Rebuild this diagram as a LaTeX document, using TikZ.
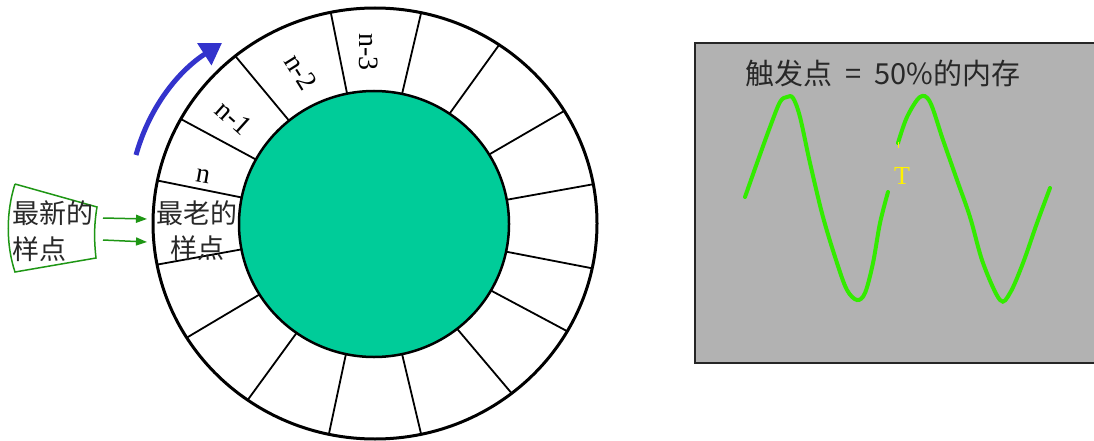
\documentclass[tikz,border=0pt]{standalone}
\usepackage{fontspec}
\newfontfamily\cjk{Noto Sans CJK SC}
\newfontfamily\tms{Liberation Serif}
\usetikzlibrary{arrows.meta}
\definecolor{ringgreen}{RGB}{0,204,153}
\definecolor{wavegreen}{RGB}{51,235,0}
\definecolor{arrgreen}{RGB}{30,150,20}
\definecolor{arrblue}{RGB}{51,51,204}
\definecolor{panelgray}{RGB}{178,178,178}
\definecolor{txtgray}{RGB}{40,40,40}
\begin{document}
\begin{tikzpicture}[x=1pt,y=-1pt,
  lbl/.style={inner sep=0pt, font=\tms\fontsize{28}{28}\selectfont},
  cjklbl/.style={inner sep=0pt, text=txtgray, font=\cjk\fontsize{27}{27}\selectfont},
  divider/.style={line width=1.8pt},
  greenarrow/.style={arrgreen, line width=1.5pt, -{Triangle[length=11pt,width=8pt]}}]
\useasboundingbox (0,0) rectangle (1094,441);
\fill[white] (0,0) rectangle (1094,441);

% ring
\draw[line width=3pt] (375,223.5) ellipse [x radius=222pt, y radius=215.5pt];
\foreach \a in {10.5,31.5,56,78,101.5,129,151,168.5,191,212,235,258,282,308,330,348}
  \draw[divider] ({374+135*cos(\a)},{224-133*sin(\a)}) -- ({375+222*cos(\a)},{223.5-215.5*sin(\a)});
\draw[fill=ringgreen, line width=2.5pt] (374,224) ellipse [x radius=135pt, y radius=133pt];

% cell labels
\node[lbl, rotate=-90] (n3) at (369,52) {n-3};
\node[lbl, rotate=-58] (n2) at (301,72) {n-2};
\node[lbl, rotate=-42] (n1) at (234,118) {n-1};
\node[lbl, rotate=-10] (n0) at (203,176) {n};
\node[cjklbl] (old1) at (197,213) {最老的};
\node[cjklbl] (old2) at (197,248) {样点};

% blue arrow
\coordinate (bs) at (136,155);
\coordinate (be) at (222,43);
\draw[arrblue, line width=5pt, -{Triangle[length=21pt,width=25pt]}]
  (bs) .. controls (150,105) and (180,70) .. (be);

% newest sample box
\draw[arrgreen, line width=1.5pt] (15,184) -- (97,207)
  .. controls (94,225) and (94,240) .. (96,258) -- (15,272)
  .. controls (6,245) and (6,212) .. (15,184);
\node[cjklbl, anchor=west] (new1) at (12,213) {最新的};
\node[cjklbl, anchor=west] (new2) at (12,249) {样点};
\coordinate (a1s) at (103,218);
\coordinate (a1e) at (147,219);
\coordinate (a2s) at (103,240);
\coordinate (a2e) at (147,242);
\draw[greenarrow] (a1s) -- (a1e);
\draw[greenarrow] (a2s) -- (a2e);

% right panel
\draw[fill=panelgray, draw=black!85, line width=2pt] (695,43) rectangle (1100,363);
\node[inner sep=0pt, anchor=west, text=txtgray, font=\cjk\fontsize{29}{29}\selectfont] (title) at (745,73)
  {触发点\hspace{0.45em}=\hspace{0.45em}50\%的内存};

\draw[wavegreen, line width=4pt, line cap=round] plot[smooth, tension=0.55] coordinates {
  (745,197) (757,163) (770,127) (780,102) (787,97) (793,98) (800,117) (810,163)
  (823,217) (837,263) (847,290) (857,300) (865,293) (873,263) (880,223) (888,192)};
\draw[wavegreen, line width=4pt, line cap=round] plot[smooth, tension=0.55] coordinates {
  (898,143) (907,117) (920,97) (930,102) (943,140) (957,180) (970,217) (983,263)
  (1000,300) (1010,293) (1023,263) (1037,223) (1050,188)};
\draw[yellow, line width=1pt] (898,142) -- (898,148);
\node[inner sep=0pt, text=yellow, font=\tms\fontsize{26}{26}\selectfont] (T) at (902,176) {T};
\end{tikzpicture}
\end{document}
